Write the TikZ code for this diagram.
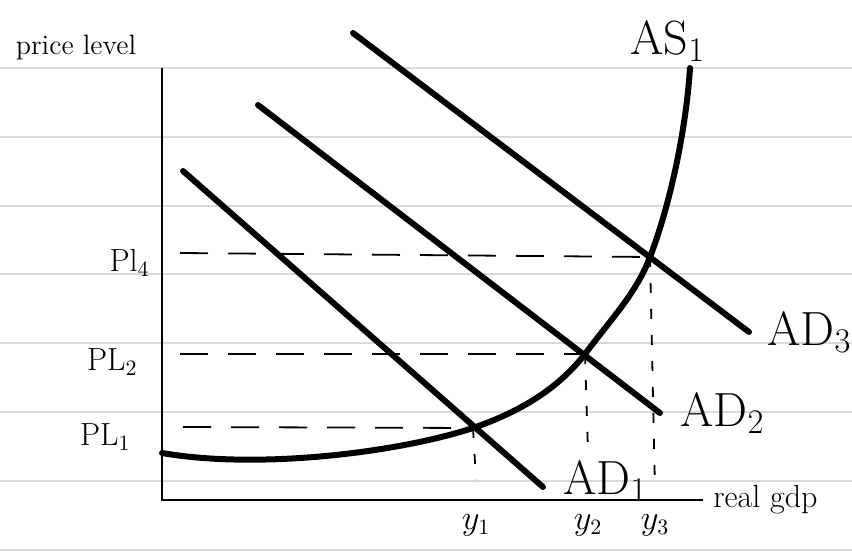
\documentclass[tikz,border=0pt]{standalone}
\usetikzlibrary{positioning,calc}

\begin{document}
\begin{tikzpicture}[x=0.5pt,y=-0.5pt,
    axis/.style={line width=1pt},
    curve/.style={line width=3pt,line cap=round},
    guide/.style={line width=0.9pt,dash pattern=on 14pt off 10pt},
    drop/.style={line width=0.9pt,dash pattern=on 5pt off 8pt},
    ruled/.style={line width=0.6pt,black!15},
    lbl/.style={inner sep=1pt,font=\fontsize{16}{18}\selectfont},
    biglbl/.style={inner sep=1pt,font=\fontsize{24}{26}\selectfont}]
  \useasboundingbox (0,0) rectangle (852,556);

  % ruled paper
  \foreach \y in {68,137,206,274,343,412,481,550}
    \draw[ruled] (0,\y) -- (852,\y);

  % axes
  \coordinate (top) at (162,68);
  \coordinate (o) at (162,500);
  \coordinate (xend) at (703,500);
  \draw[axis] (top) -- (o) -- (xend);

  % curve points
  \coordinate (as0) at (162,453);
  \coordinate (e1) at (473,428);
  \coordinate (e2) at (585,354);
  \coordinate (e3) at (650,257);
  \coordinate (as5) at (690,68);

  \coordinate (ad1a) at (183,171);
  \coordinate (ad1b) at (543,487);
  \coordinate (ad2a) at (258,105);
  \coordinate (ad2b) at (660,413);
  \coordinate (ad3a) at (353,33);
  \coordinate (ad3b) at (749,332);

  % guides
  \coordinate (pl1) at (183,427);
  \coordinate (pl2) at (180,354);
  \coordinate (pl4) at (180,253);
  \coordinate (y1) at (476,480);
  \coordinate (y2) at (588,453);
  \coordinate (y3) at (655,490);

  \draw[guide] (pl1) -- (e1);
  \draw[guide] (pl2) -- (e2);
  \draw[guide] (pl4) -- (e3);
  \draw[drop] (e1) -- (y1);
  \draw[drop] (e2) -- (y2);
  \draw[drop] (e3) -- (y3);

  % AD and AS
  \draw[curve] (ad1a) -- (ad1b);
  \draw[curve] (ad2a) -- (ad2b);
  \draw[curve] (ad3a) -- (ad3b);
  \draw[curve] (as0) .. controls (260,470) and (400,452) .. (e1)
    .. controls (525,410) and (560,386) .. (e2)
    .. controls (612,318) and (637,292) .. (e3)
    .. controls (670,205) and (686,130) .. (as5);

  % labels
  \node[biglbl,right=9pt of ad1b,yshift=3pt] (ad1lbl) {AD$_1$};
  \node[biglbl,right=9pt of ad2b] (ad2lbl) {AD$_2$};
  \node[biglbl,right=8pt of ad3b] (ad3lbl) {AD$_3$};
  \node[biglbl,above=2pt of as5,xshift=-11pt] (aslbl) {AS$_1$};

  \node[lbl,font=\fontsize{14}{16}\selectfont] (pricelbl) at (76,48) {price level};
  \node[lbl,right=4pt of xend] (gdplbl) {real gdp};

  \node[lbl,anchor=east] (pl4lbl) at (152,263) {Pl$_4$};
  \node[lbl,anchor=east] (pl2lbl) at (140,362) {PL$_2$};
  \node[lbl,anchor=east] (pl1lbl) at (133,437) {PL$_1$};

  \node[lbl,below=6pt of y1 |- o] (y1lbl) {$y_1$};
  \node[lbl,below=6pt of y2 |- o] (y2lbl) {$y_2$};
  \node[lbl,below=6pt of y3 |- o] (y3lbl) {$y_3$};
\end{tikzpicture}
\end{document}
